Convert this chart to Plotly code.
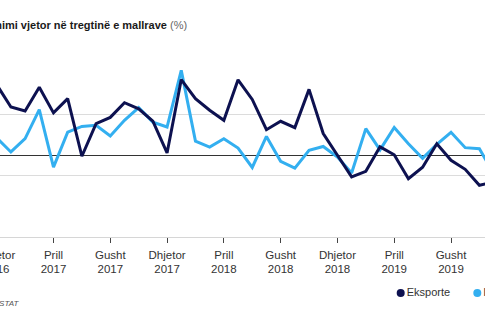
import plotly.graph_objects as go

# Monthly annual change in goods trade (%), Dec 2016 - Nov 2019
months = [
    "Dhjetor 2016",
    "Janar 2017", "Shkurt 2017", "Mars 2017", "Prill 2017", "Maj 2017", "Qershor 2017",
    "Korrik 2017", "Gusht 2017", "Shtator 2017", "Tetor 2017", "Nëntor 2017", "Dhjetor 2017",
    "Janar 2018", "Shkurt 2018", "Mars 2018", "Prill 2018", "Maj 2018", "Qershor 2018",
    "Korrik 2018", "Gusht 2018", "Shtator 2018", "Tetor 2018", "Nëntor 2018", "Dhjetor 2018",
    "Janar 2019", "Shkurt 2019", "Mars 2019", "Prill 2019", "Maj 2019", "Qershor 2019",
    "Korrik 2019", "Gusht 2019", "Shtator 2019", "Tetor 2019", "Nëntor 2019",
]
eksporte = [
    34.5,
    23.6, 21.6, 33.2, 20.7, 27.7, -0.5,
    15.5, 18.5, 25.7, 22.7, 16.7, 1.1,
    37.0, 27.7, 22.0, 17.1, 36.9, 27.3,
    12.5, 16.6, 13.5, 32.2, 10.6, 0.0,
    -10.6, -7.9, 4.1, 0.2, -11.5, -5.9,
    5.6, -2.5, -6.9, -14.7, -13.2,
]
importe = [
    8.5,
    1.6, 8.1, 22.3, -5.8, 11.3, 14.1,
    14.6, 9.4, 17.1, 23.3, 16.2, 13.8,
    41.5, 6.9, 4.0, 8.1, 3.5, -6.0,
    9.2, -3.0, -6.3, 2.4, 4.3, -0.9,
    -8.7, 13.0, 2.6, 13.6, 5.6, -1.5,
    5.3, 11.2, 3.7, 3.2, -8.9,
]
tick_months = ["Dhjetor", "Prill", "Gusht", "Dhjetor", "Prill", "Gusht", "Dhjetor", "Prill", "Gusht"]
tick_years = ["2016", "2017", "2017", "2017", "2018", "2018", "2018", "2019", "2019"]
y_ticks = [-40, -10, 20, 50]
series_names = ["Eksporte", "Importe"]

NAVY = "#0d1150"
SKY = "#33aff0"
TEXT = "#333333"
FONT = "Liberation Sans, Arial, Helvetica, sans-serif"

x_idx = list(range(len(months)))
tick_idx = x_idx[::4][:len(tick_months)]

# figure is wider than the view and shifted left; these are page-pixel layout values
FIG_W, FIG_H = 600, 325
SHIFT = 60
M_L, M_R, M_T, M_B = 45, 40, 53, 15
X_RANGE = [-0.824, 35.451]
PAPER_H = FIG_H - M_T - M_B
MAIN_DOMAIN = [(FIG_H - M_B - 237) / PAPER_H, 1]
LEG_DOMAIN = [(FIG_H - M_B - 303) / PAPER_H, (FIG_H - M_B - 283) / PAPER_H]
PLOT_W = FIG_W - M_L - M_R
LEG_X = [400.7, 477.3]


def paper_x(page_x):
    return (page_x + SHIFT - M_L) / PLOT_W


def paper_y(page_y):
    return (FIG_H - M_B - page_y) / PAPER_H


fig = go.Figure()

fig.add_trace(go.Scatter(
    x=x_idx, y=importe, mode="lines", name=series_names[1],
    line=dict(color=SKY, width=3), showlegend=False, hoverinfo="skip",
))
fig.add_trace(go.Scatter(
    x=x_idx, y=eksporte, mode="lines", name=series_names[0],
    line=dict(color=NAVY, width=3), showlegend=False, hoverinfo="skip",
))
# empty trace so the year-label axis is drawn
fig.add_trace(go.Scatter(x=[None], y=[None], xaxis="x2", yaxis="y", showlegend=False))

# legend row
fig.add_trace(go.Scatter(
    x=LEG_X, y=[0.5, 0.5], xaxis="x3", yaxis="y3",
    mode="markers+text", text=series_names, textposition="middle right",
    marker=dict(color=[NAVY, SKY], size=8),
    textfont=dict(family=FONT, size=11, color=TEXT),
    cliponaxis=False, showlegend=False, hoverinfo="skip",
))

tick_font = dict(family=FONT, size=11.5, color=TEXT)

fig.update_layout(
    width=FIG_W, height=FIG_H,
    margin=dict(l=M_L, r=M_R, t=M_T, b=M_B),
    paper_bgcolor="white", plot_bgcolor="white",
    font=dict(family=FONT, size=11, color=TEXT),
    xaxis=dict(
        range=X_RANGE, domain=[0, 1], anchor="y",
        tickmode="array", tickvals=tick_idx, ticktext=tick_months,
        ticks="outside", ticklen=5, tickwidth=1, tickcolor="#444444",
        ticklabelstandoff=2,
        showline=True, linecolor="#d6d6d6", linewidth=1,
        showgrid=False, zeroline=False, tickfont=tick_font,
    ),
    xaxis2=dict(
        range=X_RANGE, overlaying="x", anchor="y", side="bottom",
        tickmode="array", tickvals=tick_idx, ticktext=tick_years,
        ticks="outside", ticklen=5, tickcolor="rgba(0,0,0,0)",
        ticklabelstandoff=16,
        showline=False, showgrid=False, zeroline=False, tickfont=tick_font,
    ),
    yaxis=dict(
        range=[-40, 50], domain=MAIN_DOMAIN, anchor="x",
        tickmode="array", tickvals=y_ticks, showticklabels=False,
        showgrid=True, gridcolor="#dcdcdc", gridwidth=1,
        zeroline=True, zerolinecolor="#333333", zerolinewidth=1,
        showline=False, ticks="",
    ),
    xaxis3=dict(domain=[0, 1], range=[-15, 500], anchor="y3", visible=False, fixedrange=True),
    yaxis3=dict(domain=LEG_DOMAIN, range=[0, 1], anchor="x3", visible=False, fixedrange=True),
    annotations=[
        dict(
            xref="paper", yref="paper", x=paper_x(-38.5), y=paper_y(25),
            xanchor="left", yanchor="middle", showarrow=False,
            text="<b>Ndryshimi vjetor në tregtinë e mallrave</b> <span style='color:#666666'>(%)</span>",
            font=dict(family=FONT, size=11, color="#1a1a1a"),
        ),
        dict(
            xref="paper", yref="paper", x=paper_x(-38), y=paper_y(303.5),
            xanchor="left", yanchor="middle", showarrow=False,
            text="<i>Burimi: INSTAT</i>",
            font=dict(family=FONT, size=8, color="#555555"),
        ),
    ],
)

post = (
    "var gd=document.getElementById('{plot_id}');"
    "gd.style.marginLeft='-%dpx';"
    "document.body.style.margin='0';"
    "document.body.style.overflow='hidden';"
    "document.documentElement.style.overflow='hidden';" % SHIFT
)
fig.write_html("out.html", config={"displayModeBar": False}, post_script=post)
